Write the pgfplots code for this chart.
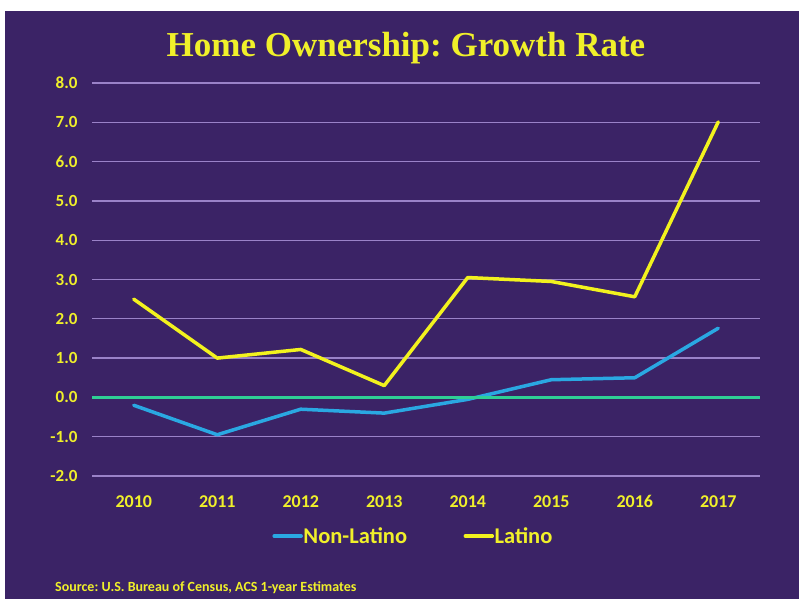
\documentclass[border=0pt]{standalone}
\usepackage{pgfplots}
\pgfplotsset{compat=1.18}
\usepackage{fontspec}
\setmainfont{Carlito}
\newfontfamily\titlefont{Liberation Serif}
\frenchspacing
\definecolor{bg}{HTML}{3B2366}
\definecolor{gridc}{HTML}{9A82C8}
\definecolor{ylw}{HTML}{F0F02A}
\definecolor{latino}{HTML}{F2F21E}
\definecolor{nonlat}{HTML}{2AA8E2}
\definecolor{zeroc}{HTML}{2FCF95}
\begin{document}
\begin{tikzpicture}
\useasboundingbox (0pt,0pt) rectangle (799pt,-599pt);
\fill[white] (0pt,0pt) rectangle (799pt,-599pt);
\fill[bg] (5pt,-11pt) rectangle (799pt,-599pt);
\node[anchor=base, font=\titlefont\bfseries\fontsize{35}{40}\selectfont, text=ylw, inner sep=0pt] at (406pt,-57pt) {Home Ownership: Growth Rate};
\node[anchor=base west, font=\bfseries\fontsize{14}{16}\selectfont, text=ylw, inner sep=0pt] at (55pt,-591pt) {Source: U.S. Bureau of Census, ACS 1-year Estimates};
\begin{axis}[
  at={(92pt,-476pt)}, anchor=south west,
  scale only axis, width=668pt, height=393pt,
  xmin=-0.5, xmax=7.5, ymin=-2, ymax=8,
  xtick={0,1,2,3,4,5,6,7},
  xticklabels={2010,2011,2012,2013,2014,2015,2016,2017},
  ytick={-2,-1,0,1,2,3,4,5,6,7,8},
  yticklabels={-2.0,-1.0,0.0,1.0,2.0,3.0,4.0,5.0,6.0,7.0,8.0},
  axis line style={draw=none},
  major tick length=0pt,
  ymajorgrids, grid style={gridc, line width=1.3pt},
  xticklabel style={font=\bfseries\fontsize{18}{21}\selectfont, text=ylw, anchor=base, yshift=-31pt},
  yticklabel style={font=\bfseries\fontsize{17}{20}\selectfont, text=ylw, xshift=-11pt},
  legend columns=2,
  legend style={at={(0.480,-0.153)}, anchor=center, draw=none, fill=none, text=ylw,
    font=\bfseries\fontsize{22.5}{26}\selectfont, inner sep=0pt,
    /tikz/every even column/.append style={column sep=56pt},
    nodes={inner sep=0.5pt}},
  legend image code/.code={\draw[#1] (0pt,0pt) -- (27pt,0pt);},
  clip=false,
]
\addplot[nonlat, line width=3.5pt, line join=round, line cap=round] coordinates {
(0,-0.20) (1,-0.95) (2,-0.30) (3,-0.40) (4,-0.05) (5,0.45) (6,0.50) (7,1.76)};
\addlegendentry{Non-Latino}
\addplot[zeroc, line width=3.5pt, forget plot] coordinates {(-0.5,0) (7.5,0)};
\addplot[latino, line width=3.5pt, line join=round, line cap=round] coordinates {
(0,2.50) (1,1.00) (2,1.22) (3,0.30) (4,3.05) (5,2.95) (6,2.56) (7,7.01)};
\addlegendentry{Latino}
\end{axis}
\end{tikzpicture}
\end{document}
